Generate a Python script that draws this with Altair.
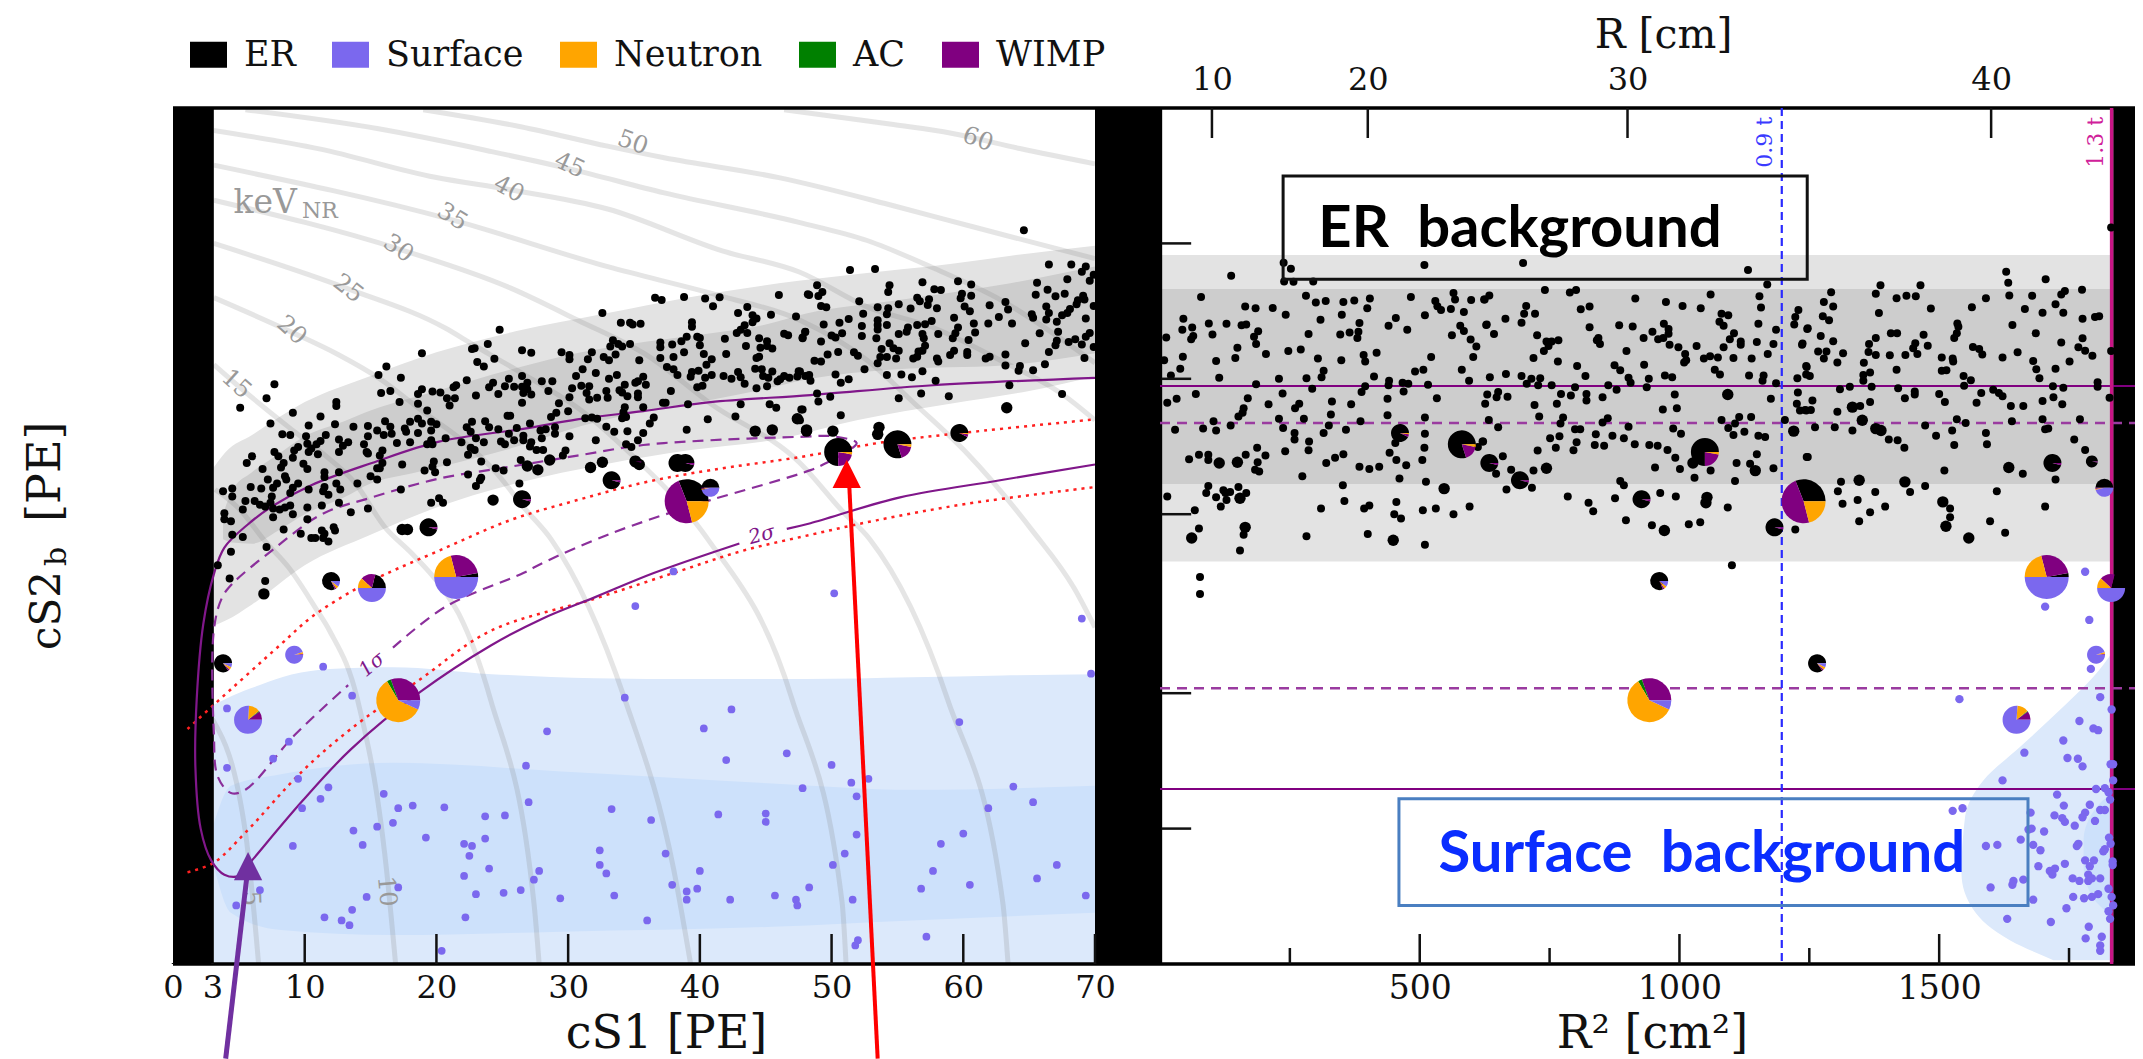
import math
import altair as alt
import pandas as pd

alt.data_transformers.disable_max_rows()

cats = ["ER", "Surface", "Neutron", "AC", "WIMP"]
cat_colors = ["#000000", "#7b68ee", "#ffa500", "#008000", "#800080"]

er_left_a = [(24.8,2570),(23.9,2390),(22.7,2330),(22.9,2340),(18.9,2280),(24.4,2215),(23.1,2180),(23.6,2130),(16.2,2130),(15.6,2040),(17.3,2010),(7.7,1945),(15.8,1860),(16.5,1880),(7.1,1810),(12.4,1775),(12.4,1740),(5.1,1725),(9.1,1680),(11.2,1650),(7.4,1590),(10.3,1575),(12.3,1585),(13.7,1565),(14.8,1570),(8.3,1505),(8.9,1500),(10.1,1490),(11.6,1500),(15.5,1535),(16.5,1565),(16.6,1510),(16.0,1500),(14.8,1490),(17.6,1550),(17.7,1525),(18.0,1605),(18.6,1630),(18.9,1590),(18.6,1515),(19.6,1605),(20.0,1585),(19.6,1535),(16.1,1610),(22.3,1985),(21.5,1935),(21.3,1915),(24.3,1960),(24.0,1915),(25.5,2000),(18.6,1850),(18.9,1895),(19.7,1875),(20.3,1865),(20.8,1810),(21.4,1810),(21.0,1745),(23.0,1835),(24.7,1850),(25.2,1925),(17.2,1775),(18.6,1760),(19.3,1700),(25.4,1655),(22.7,1605),(23.7,1610),(24.0,1560),(24.7,1545),(22.3,1560),(22.6,1525),(20.7,1475),(17.0,1440),(18.0,1445),(19.3,1430),(19.6,1460),(19.7,1430)]
er_left_b = [(14.5,1430),(12.6,1465),(13.3,1445),(12.9,1420),(12.6,1375),(11.2,1455),(10.9,1430),(10.2,1435),(9.5,1410),(9.2,1385),(10.5,1400),(11.0,1360),(10.3,1375),(7.7,1375),(8.0,1345),(9.9,1295),(10.2,1260),(9.1,1335),(6.0,1345),(5.6,1300),(8.4,1300),(8.2,1270),(6.8,1260),(11.5,1240),(11.5,1210),(12.6,1240),(14.7,1375),(14.8,1365),(17.4,1290),(15.9,1385),(15.7,1350),(15.9,1300),(15.5,1265),(15.7,1265),(19.1,1250),(19.8,1310),(19.9,1240),(20.8,1305),(19.7,1275),(21.9,1445),(22.6,1405),(22.4,1355),(22.9,1390),(23.0,1475),(23.6,1445),(23.4,1310),(24.9,1450),(25.2,1430),(25.5,1510),(24.5,1265),(25.1,1250),(22.4,1225),(23.4,1205),(23.3,1190),(23.0,1155),(15.0,1215),(15.5,1195),(14.0,1170),(17.3,1135),(7.2,1195),(8.5,1215),(8.6,1195),(7.9,1170),(7.6,1145),(9.5,1170),(9.1,1145),(8.9,1115),(5.9,1150),(6.7,1140),(10.3,1135),(11.5,1150),(11.4,1125),(11.8,1105),(12.4,1170),(12.7,1135),(12.6,1060)]
er_left_c = [(3.8,1125),(4.5,1140),(4.5,1095),(5.5,1070),(6.2,1070),(6.6,1050),(7.0,1040),(7.5,1095),(7.4,1060),(7.6,1030),(8.1,1025),(8.5,1035),(8.9,1045),(5.3,1025),(10.2,1035),(11.3,1045),(9.1,1000),(10.2,975),(7.6,985),(3.9,1005),(3.9,975),(4.4,965),(4.5,900),(5.3,890),(8.4,925),(9.7,905),(10.5,885),(10.8,885),(11.3,920),(11.5,905),(12.2,935),(12.3,920),(11.8,870),(11.4,885),(13.5,1010),(14.8,1030),(19.6,1060),(20.2,1085),(20.5,1060),(7.1,845),(4.4,825),(3.4,770),(4.3,720),(7.0,710)]
er_left_d = [(32.6,2800),(34.0,2665),(34.7,2665),(34.9,2640),(35.5,2650),(36.6,3030),(37.1,2995),(38.8,3040),(40.4,3015),(41.0,2900),(41.5,3035),(46.0,3070),(48.2,3085),(43.6,2890),(42.9,2800),(45.4,2775),(47.3,2750),(44.0,2770),(44.3,2725),(44.0,2670),(43.4,2630),(43.1,2570),(42.8,2530),(43.6,2530),(39.4,2670),(39.4,2610),(39.8,2480),(40.0,2465),(39.0,2480),(38.6,2425),(37.9,2385),(37.0,2410),(37.0,2350),(40.0,2375),(41.9,2455),(33.4,2435),(33.2,2360),(33.8,2390),(34.1,2360),(34.7,2390),(26.5,2315),(27.2,2285),(29.5,2290),(30.1,2260),(30.1,2210),(31.8,2290),(31.5,2210),(32.7,2235),(33.1,2200),(33.6,2265),(35.4,2200),(37.0,2225),(38.0,2235),(38.8,2290),(40.3,2270),(40.9,2210),(40.5,2150),(42.0,2270),(43.5,2365),(44.5,2460),(45.1,2425),(45.1,2365),(45.5,2335),(44.6,2345),(44.5,2240),(44.3,2225),(46.4,2520),(46.7,2500),(47.8,2460),(48.0,2540)]
er_left_e = [(37.5,2125),(38.0,2100),(38.3,2040),(39.4,2070),(39.9,2085),(39.3,2020),(40.9,2040),(40.4,2010),(41.8,2030),(42.4,2000),(42.9,2070),(43.1,2015),(43.4,1950),(44.2,2105),(44.7,2100),(44.8,2030),(45.2,2010),(45.5,2075),(44.3,1905),(45.1,1925),(46.1,1995),(45.9,1975),(46.4,2030),(46.8,2010),(47.5,2080),(47.4,2025),(48.0,2030),(31.1,2100),(30.6,2030),(32.1,2060),(33.7,2040),(33.1,2000),(26.5,2030),(28.0,1975),(28.8,1975),(26.9,1960),(25.9,1920),(26.5,1920),(26.9,1895),(26.6,1860),(27.2,1845),(28.5,1880),(30.1,1820),(30.3,1905),(31.0,1930),(31.6,1925),(31.4,1860),(31.6,1800),(32.2,1815),(32.9,1880),(33.0,1815),(33.9,1885),(34.3,1940),(34.1,1865),(34.5,1830),(35.3,1975),(35.7,2020),(35.9,1940),(35.1,1960),(35.3,1855),(35.3,1820),(37.8,1880),(39.8,1915),(40.2,1930)]
er_left_f = [(26.5,1770),(29.3,1765),(37.2,1770),(37.4,1770),(39.1,1755),(43.1,1755),(45.3,1755),(45.8,1725),(35.7,1730),(34.3,1730),(34.2,1685),(34.4,1645),(34.1,1635),(29.1,1680),(30.0,1695),(28.7,1645),(31.3,1635),(31.8,1640),(32.2,1630),(25.6,1655),(26.1,1555),(27.1,1590),(27.9,1535),(28.3,1545),(29.0,1560),(29.0,1510),(30.1,1490),(32.9,1565),(33.5,1525),(34.5,1530),(35.7,1515),(36.2,1590),(36.5,1640),(39.0,1540),(40.6,1625),(42.7,1650),(47.8,1710),(26.6,1495),(25.9,1460),(26.6,1460),(27.2,1445),(27.1,1415),(27.6,1390),(28.1,1390),(28.0,1475),(32.1,1460),(34.4,1430),(34.8,1410),(35.3,1460),(29.8,1385),(29.6,1350),(26.4,1320),(26.3,1170)]
er_left_g = [(64.6,4280),(51.4,3490),(53.3,3510),(66.5,3590),(68.2,3590),(69.3,3555),(69.0,3460),(69.9,3405),(69.6,3305),(67.9,3330),(65.6,3270),(48.9,3230),(49.3,3120),(49.0,3055),(48.3,3070),(54.4,3230),(54.3,3120),(56.9,3280),(57.8,3165),(58.3,3150),(59.6,3295),(60.6,3240),(59.9,3090),(59.8,3020),(60.6,3060),(52.1,2975),(56.5,3030),(56.7,2975),(57.4,3005),(57.3,2920),(55.1,2930),(65.5,3075),(66.4,3155),(67.0,3050),(67.7,3090),(69.1,3060),(68.7,2990),(69.2,3000),(68.6,2930),(53.5,2885),(54.3,2870),(54.2,2785),(49.2,2905),(49.6,2885),(52.4,2790),(56.0,2865),(58.0,2870),(60.1,2895),(60.5,2825),(62.0,2915),(63.2,2965),(63.4,2850),(66.3,2895),(66.5,2800),(66.3,2710),(68.1,2860),(67.9,2800),(69.9,2905),(67.5,2770),(51.3,2715),(50.6,2665),(49.4,2640),(53.5,2700),(54.2,2635),(52.3,2620),(53.5,2635),(53.5,2575),(59.3,2735),(62.7,2745),(65.2,2785),(65.3,2735),(69.3,2725),(60.8,2655),(61.9,2655),(63.7,2655)]
er_left_h = [(57.6,2690),(57.1,2645),(56.5,2635),(55.8,2600),(55.7,2545),(55.1,2515),(67.1,2680),(67.2,2545),(65.8,2525),(58.1,2515),(56.9,2515),(57.0,2460),(59.6,2600),(59.4,2525),(59.2,2460),(60.9,2535),(60.4,2440),(48.0,2545),(47.8,2470),(50.8,2525),(50.0,2495),(50.3,2470),(52.3,2490),(53.4,2460),(49.2,2420),(54.4,2400),(57.1,2370),(54.7,2340),(53.8,2330),(55.1,2310),(56.9,2310),(56.6,2300),(59.3,2310),(59.0,2260),(60.3,2295),(60.3,2260),(64.7,2400),(67.1,2430),(67.0,2375),(68.0,2415),(68.5,2450),(69.0,2385),(69.3,2480),(69.6,2530),(69.9,2355),(66.5,2295),(69.2,2225),(49.7,2265),(50.5,2295),(51.7,2290),(52.0,2250),(53.7,2235),(54.2,2235),(54.9,2220),(56.2,2220),(56.5,2240),(48.7,2195),(49.2,2185),(53.5,2165),(58.0,2220),(58.1,2185),(61.7,2220),(62.0,2240),(63.2,2265),(63.2,2140),(64.3,2135),(64.2,2085),(65.3,2090),(66.2,2155),(52.5,2100),(54.2,2040),(55.3,2045),(56.1,2015),(56.9,2080),(57.9,1980),(47.6,2075),(48.3,2040),(48.4,1980),(50.3,2045),(50.7,1960),(51.3,1995),(63.5,1935),(67.5,1850),(48.9,1855),(49.0,1780),(49.9,1825),(55.1,1810),(56.8,1855),(58.9,1830),(50.7,1660),(47.7,1710),(47.6,1618)]
er_left_big = [(24.3,1075),(17.4,925),(17.8,925),(6.9,665),(47.4,1630),(48.1,1540),(44.2,1530),(45.5,1540),(28.6,1320),(27.7,1255),(31.7,1270),(32.6,1305),(26.9,1280),(63.3,1725),(48.1,1530),(50.1,1530),(53.6,1560),(53.5,1505),(35.4,1290)]

er_right_a = [(137,3390),(238,3625),(252,3515),(239,3290),(257,3285),(295,3290),(509,3580),(79,3040),(164,2895),(184,2870),(217,2875),(242,2775),(281,3060),(300,2955),(319,2980),(353,2965),(374,2985),(404,3015),(399,2870),(483,3040),(565,3105),(568,3000),(599,2995),(625,3000),(530,2980),(534,2900),(541,2845),(560,2860),(585,2815),(510,2770),(45,2720),(94,2655),(128,2650),(157,2630),(166,2640),(309,2705),(350,2775),(384,2660),(454,2730),(440,2625),(476,2570),(578,2625),(628,2635),(585,2555),(43,2570),(62,2600),(101,2510),(189,2550),(181,2480),(185,2390),(64,2490),(60,2450),(12,2470),(286,2515),(347,2510),(365,2535),(382,2545),(380,2465),(562,2500),(598,2445),(609,2360),(149,2345),(145,2225),(44,2240),(8,2200),(108,2190),(204,2270),(247,2305),(271,2325),(304,2220),(349,2200),(392,2260),(395,2185),(417,2285),(522,2235),(603,2235)]
er_right_b = [(39,2105),(21,2035),(114,2010),(229,2000),(282,2005),(315,2085),(311,2015),(412,2025),(581,2095),(595,1980),(491,2075),(507,2095),(185,1945),(441,1980),(440,1935),(467,1960),(478,1950),(516,1940),(395,1925),(388,1870),(293,1900),(469,1875),(69,1850),(236,1855),(169,1810),(32,1805),(14,1770),(533,1810),(438,1805),(209,1755),(331,1780),(368,1755),(268,1760),(260,1720),(161,1720),(151,1650),(159,1680),(329,1665),(438,1660),(510,1640),(229,1630),(277,1630),(103,1610),(386,1610),(136,1575),(325,1575),(83,1550),(108,1535),(237,1555),(29,1540),(358,1540),(259,1515),(315,1515),(510,1510),(259,1465),(287,1450),(286,1387),(187,1405),(241,1380),(453,1440),(509,1405),(621,1450),(612,1410),(353,1360),(337,1335),(165,1355),(203,1350),(75,1355),(93,1355),(93,1320),(56,1325),(442,1370),(455,1320),(474,1285),(505,1320),(320,1300),(188,1305),(384,1275),(403,1260),(422,1275),(183,1255),(191,1245),(274,1215),(461,1200),(512,1180)]
er_right_c = [(93,1155),(89,1115),(151,1150),(166,1115),(122,1130),(135,1120),(126,1115),(108,1090),(128,1075),(117,1040),(14,1095),(67,1020),(352,1160),(355,1070),(310,1030),(393,1030),(403,1045),(455,1065),(451,1000),(464,978),(506,1020),(531,1030),(565,1000),(596,1040),(75,930),(161,900),(154,830),(282,893),(400,904),(510,855),(77,725),(77,665),(1101,770)]
er_right_d = [(699,3620),(1132,3490),(1169,3240),(741,3150),(789,3110),(801,3150),(624,3000),(634,3065),(915,3015),(974,2965),(1006,2905),(1041,2870),(1060,3080),(1154,3050),(1157,2880),(705,2905),(701,2790),(722,2790),(665,2720),(696,2665),(629,2640),(643,2515),(810,2855),(827,2895),(827,2605),(884,2630),(910,2615),(726,2500),(744,2420),(754,2420),(767,2435),(748,2365),(739,2305),(719,2225),(766,2185),(803,2135),(844,2465),(841,2435),(847,2390),(898,2305),(931,2465),(948,2545),(970,2650),(979,2580),(979,2520),(969,2465),(959,2450),(981,2380),(998,2350),(1033,2365),(1081,2790),(1094,2770),(1077,2680),(1085,2625),(1105,2525),(1152,2650),(1186,2570),(1097,2450),(1118,2420),(1118,2380),(1149,2415),(1181,2390),(1085,2350),(1170,2270),(1104,2225),(1139,2220),(1047,2220),(1059,2245),(1074,2230),(1011,2270),(1013,2200),(1009,2175),(1229,2845),(1223,2745),(1221,2640),(1246,2580),(1236,2380)]
er_right_e = [(875,2145),(886,2090),(932,2150),(635,2015),(666,2050),(696,2030),(715,2000),(732,2005),(706,1950),(728,1935),(754,1935),(819,2030),(902,2010),(906,1960),(941,2000),(972,2035),(986,2015),(863,1935),(799,1915),(879,1890),(937,1915),(1068,2095),(1078,2045),(1134,2035),(1162,2035),(1160,1980),(1186,1955),(1227,2005),(1245,2125),(1244,2045),(772,1850),(791,1835),(821,1850),(821,1790),(852,1820),(630,1845),(651,1870),(648,1820),(669,1825),(626,1760),(721,1750),(764,1760),(991,1845),(1176,1805),(1228,1865),(1226,1760),(968,1710),(995,1720),(730,1650),(776,1640),(771,1590),(633,1620),(651,1560),(862,1635),(852,1600),(1081,1620),(1115,1645),(1138,1645),(1107,1590),(1203,1620),(1244,1700)]
er_right_f = [(799,1545),(809,1545),(902,1565),(988,1550),(1003,1510),(1094,1555),(1104,1500),(1125,1525),(1152,1495),(1165,1485),(839,1505),(871,1495),(893,1475),(769,1490),(751,1475),(622,1450),(802,1445),(796,1387),(762,1405),(837,1425),(855,1420),(914,1430),(942,1425),(958,1420),(977,1390),(727,1385),(660,1345),(992,1335),(1149,1360),(1136,1295),(1245,1340),(953,1270),(1001,1260),(676,1255),(719,1250),(1110,1300),(1181,1265),(1060,1250),(1029,1205),(1107,1185),(886,1185),(893,1160),(647,1230),(667,1135),(716,1145),(785,1095),(825,1060),(834,1015),(876,1085),(963,1115),(993,1095),(1093,1035),(897,970),(947,945),(1018,950),(1040,960),(1223,925)]
er_right_g = [(1831,4340),(1629,3460),(1633,3270),(1705,3330),(1635,3065),(1387,3230),(1378,3090),(1464,3230),(1292,3115),(1418,3020),(1437,3060),(1455,3050),(1679,3060),(1735,3080),(1742,3135),(1775,3155),(1590,3020),(1563,2885),(1278,2965),(1296,2895),(1484,2865),(1384,2800),(1665,2860),(1699,2805),(1724,2930),(1739,2805),(1776,2720),(1800,2745),(1808,2755),(1276,2755),(1288,2700),(1247,2590),(1535,2655),(1537,2610),(1641,2635),(1686,2525),(1272,2490),(1534,2525),(1529,2465),(1378,2465),(1407,2525),(1419,2525),(1470,2505),(1776,2460),(1237,2395),(1296,2425),(1365,2390),(1735,2410),(1454,2400),(1450,2340),(1478,2370),(1458,2270),(1364,2295),(1378,2260),(1405,2255),(1435,2260),(1267,2300),(1283,2300),(1278,2220),(1315,2280),(1304,2175),(1355,2170),(1565,2355),(1577,2330),(1583,2265),(1622,2230),(1651,2290),(1768,2350),(1781,2310),(1795,2250),(1831,2305)]
er_right_h = [(1505,2230),(1526,2220),(1527,2185),(1681,2190),(1751,2185),(1687,2100),(1505,2085),(1514,2090),(1724,2105),(1418,2095),(1244,2135),(1367,2065),(1354,2040),(1354,1980),(1251,2030),(1547,2030),(1561,1985),(1693,2005),(1548,1930),(1805,1965),(1805,1920),(1309,1895),(1328,1920),(1370,1920),(1421,1905),(1453,1875),(1453,1845),(1719,1925),(1739,1910),(1604,1890),(1615,1860),(1622,1830),(1581,1860),(1434,1810),(1500,1850),(1511,1775),(1720,1820),(1828,1815),(1256,1790),(1367,1775),(1699,1785),(1572,1770),(1737,1755),(1638,1740),(1662,1740),(1232,1700),(1242,1705),(1253,1705),(1304,1690),(1348,1740),(1534,1625),(1551,1595),(1640,1610),(1699,1625),(1771,1625),(1261,1560),(1299,1560),(1333,1535),(1473,1575),(1525,1535),(1704,1545),(1710,1550)]
er_right_i = [(1494,1495),(1590,1515),(1592,1430),(1529,1425),(1403,1465),(1420,1460),(1433,1405),(1760,1465),(1781,1390),(1247,1340),(1510,1250),(1661,1230),(1724,1195),(1311,1180),(1305,1125),(1473,1155),(1611,1125),(1444,1120),(1377,1120),(1314,1055),(1343,1075),(1396,1040),(1367,1010),(1346,965),(1704,1040),(1598,965),(1627,910),(1521,1030),(1521,985)]
er_right_big = [(114,1300),(149,1305),(154,1085),(547,1140),(61,885),(164,935),(449,875),(744,1265),(1026,1300),(1146,1250),(1053,1090),(1051,1060),(971,920),(963,715),(1220,1530),(1333,1730),(1352,1618),(1378,1550),(1388,1535),(1507,1065),(1346,1190),(1634,1270),(1513,940),(1557,885),(1434,1180),(1093,1845)]

surf_left_a = [(38,746),(50.2,667),(35.1,625),(69,586),(69.7,442),(11.4,458),(4.1,370),(13.6,395),(34.3,391),(42.4,368),(40.3,334),(28.4,329),(59.7,345),(8.8,312),(7.6,286),(4.1,273),(46.6,294),(42,284),(26.8,276),(50,277),(9.5,258),(11.8,247),(11.2,233),(9.8,222),(16,239),(17.1,222),(18.2,225),(20.6,223),(27,229),(52.8,258),(51.5,253),(51.9,236),(47.8,246),(63.8,248),(65.3,229),(61.9,222),(33.3,221),(36.3,209),(41.4,215),(45,216),(45,207),(23.7,213),(25.2,214),(16.7,206),(15.5,202),(13.7,198),(9.1,183),(14.4,184),(19.2,191),(23.7,190),(22.1,185),(22.7,183),(22.5,174)]
surf_left_b = [(51.9,194),(51,176),(50.1,166),(60,195),(58.3,185),(37.4,176),(32.4,179),(32.4,166),(32.9,159),(27.8,161),(27.4,154),(22.1,157),(24,163),(40,161),(57.7,161),(67.1,166),(65.6,155),(60.5,150),(56.8,147),(48.3,148),(39.8,147),(37.9,150),(39,145),(39,139),(42.3,139),(45.7,142),(47.3,139),(47.4,135),(33.5,142),(29.4,140),(26.4,146),(25.1,144),(23,143),(17.1,148),(14.7,141),(6.6,146),(4.8,135),(13.6,132),(11.5,127),(12.8,125),(13.4,122),(22.2,127),(36,125),(51.6,139),(69.3,142),(57.2,115),(52,113),(51.8,110),(20.4,107)]
surf_right_a = [(1781,745),(1704,623),(1789,582),(1792,453),(1539,388),(1810,392),(1832,368),(1770,347),(1797,334),(1806,331),(1739,314),(1664,295),(1747,287),(1767,286),(1776,275),(1830,278),(1835,278),(1622,256),(1835,256),(1802,245),(1819,246),(1826,241),(1727,238),(1829,232),(1740,225),(1790,226),(1526,219),(1545,222),(1810,220),(1819,220),(1676,217),(1781,217),(1722,214),(1776,212),(1737,211),(1742,207),(1761,203),(1800,208)]
surf_right_b = [(1678,200),(1672,199),(1702,197),(1657,189),(1827,191),(1768,185),(1765,183),(1681,184),(1590,183),(1612,184),(1695,179),(1830,185),(1819,180),(1816,178),(1781,170),(1798,170),(1790,165),(1834,169),(1834,166),(1691,165),(1742,167),(1713,161),(1723,163),(1718,158),(1787,158),(1757,155),(1770,153),(1787,153),(1810,155),(1794,155),(1643,153),(1641,150),(1662,154),(1599,148),(1681,139),(1758,141),(1779,140),(1794,141),(1806,143),(1826,147),(1832,141),(1835,135),(1745,133),(1826,131),(1631,126),(1715,124),(1829,126),(1788,121),(1813,115),(1782,114),(1810,110),(1810,107)]

# cS1, R2, cS2b, then the share of ER, WIMP, AC, Neutron, Surface
pies = [
    (39.0,1239,1069,.31,.48,0,.21,0),(17.1,942,386,0,.305,.03,.595,.07),(21.5,1707,725,.03,.26,0,.21,.50),
    (15.1,1831,685,.21,.17,0,.12,.50),(50.5,1049,1375,.75,.22,0,.03,0),(55.0,581,1430,.80,.17,0,.03,0),
    (59.7,462,1515,.93,.05,0,.02,0),(12.0,961,710,.82,.03,0,.05,.10),(3.8,1265,466,.85,.03,0,.05,.07),
    (5.7,1649,349,0,.10,.01,.13,.76),(9.2,1802,487,0,.02,0,.03,.95),(40.8,1818,1145,.50,.02,0,.02,.46),
    (19.4,1183,935,.96,.04,0,0,0),(33.3,693,1190,.96,.04,0,0,0),(26.5,927,1080,.96,.04,0,0,0),
    (38.3,634,1300,.96,.04,0,0,0),(38.9,1718,1300,.96,.04,0,0,0),(35.1,1794,1310,.97,.03,0,0,0),
]
pie_radius = [22,22,22,14,14,14,9,9,9,14,9,9,9,9,9,9,9,6]

er_outer_x = [3.1,4,6,10,15,20,26,33,39,46,52,59,65,70]
er_outer_top = [1271,1375,1500,1775,2030,2290,2550,2800,3030,3260,3420,3600,3800,3950]
er_outer_bot = [565,580,630,770,900,1035,1170,1295,1385,1470,1620,1760,1880,2025]
er_inner_x = [3.8,4.5,6,8,10,13,15,18,20,26,31,36,41,45,48,55,63,70]
er_inner_top = [1000,1130,1240,1360,1490,1610,1700,1810,1880,2110,2290,2420,2530,2640,2790,2990,3240,3555]
er_inner_bot = [880,865,860,920,1000,1090,1170,1230,1270,1410,1570,1700,1800,1900,1990,2100,2140,2280]
surf_outer_x = [3.1,4.5,6.6,9,11.9,16.7,24.2,32,40.1,48,56.1,63,70]
surf_outer_top = [377,395,417,440,453,457,441,432,430,430,434,438,441]
surf_inner_x = [3.1,4.4,8.2,16.7,29.5,45.5,56.1,70]
surf_inner_top = [205,249,264,280,268,252,244,249]
surf_inner_bot = [165,130,119,116,118,121,125,130]
blob_y = [102,113,132,159,213,256,304,379,435,490]
blob_x = [1720,1636,1566,1543,1550,1585,1656,1745,1797,1832]
blob_in_y = [128,140,165,188,223,241]
blob_in_x = [1832,1797,1778,1778,1803,1832]

iso_curves = {
    5: [(3,350),(5.5,196),(6.5,100)],
    10: [(3.2,1135),(5,1030),(7,870),(8.8,760),(10.8,620),(11.9,550),(14,388),(16.2,163),(16.9,100)],
    15: [(3.1,2150),(4.8,1945),(8.8,1560),(11.3,1370),(13.8,1175),(16.1,935),(18.1,820),(20.2,700),(21.7,600),(24.1,388),(27.4,137),(27.8,100)],
    20: [(3.1,3030),(9,2540),(12.6,2260),(15.6,2010),(19.1,1680),(22.2,1440),(24.5,1240),(26.7,1030),(28.7,880),(34.3,388),(38,163),(39.3,100)],
    25: [(3.1,4000),(13.3,3170),(20.7,2590),(22.7,2390),(26.7,2040),(31,1700),(35,1340),(38.8,1030),(40.6,880),(47,388),(50.8,137),(51.1,100)],
    30: [(3.1,4990),(17.1,3890),(25.6,3185),(30.7,2702),(36.2,2235),(40.8,1763),(47.6,1300),(50.9,1010),(52.9,880),(58.8,388),(63,137),(63.4,100)],
    35: [(3.1,5970),(21.2,4510),(33,3550),(41.7,3050),(47.6,2700),(52.7,2200),(56.5,1740),(60.3,1364),(65.2,923),(68.4,686),(70,560)],
    40: [(3.1,7130),(11.1,6490),(19.9,5610),(25.5,5270),(33,4770),(41.7,3850),(47.6,3450),(52.7,2890),(57.7,2600),(62.8,2200),(67.5,1850),(70,1618)],
    45: [(5.5,7930),(15.5,7200),(24.2,6400),(30.1,5860),(37.3,5180),(47.6,4450),(52.7,4060),(57.7,3530),(62.8,3000),(67.9,2400),(70,2170)],
    50: [(19,7930),(26.4,7270),(33,6580),(37.3,6200),(46,5600),(54.7,4850),(60.8,4350),(70,3700)],
    60: [(46.4,7930),(54.7,7350),(59.1,7030),(64.3,6500),(70,6010)],
}
iso_labels = [("60",61.1,6800,20),("50",34.9,6690,20),("45",30.1,5960,25),("40",25.5,5270,28),("35",21.2,4580,32),
              ("30",17.1,3890,35),("25",13.3,3170,38),("20",9,2560,42),("15",4.8,1945,42),("10",16.2,145,85),("5",5.9,140,88)]

contour_solid_a = [(43,861),(36.5,740),(32.1,655),(28,585),(24.1,510),(18.8,403),(13.5,300),(9.8,230),(6,170),(5,157),(3.9,158),(2.9,170),(2.1,200),(1.7,274),(1.8,388),(2.3,570),(3.1,735),(3.9,843),(5.7,950),(7.5,1040),(10.5,1160),(15.1,1300),(20.2,1450),(26.7,1550),(30.7,1625),(35.7,1695),(40.8,1775),(48.4,1840),(57.7,1935),(70,2010)]
contour_solid_b = [(46.6,928),(48.4,955),(55.2,1090),(62.8,1190),(70,1290)]
contour_dash = [(16.7,505),(20.7,623),(26.6,740),(28.1,780),(33.2,905),(38.3,1020),(40.8,1075),(48.4,1253),(49.6,1300),(51.4,1390),(51.9,1440),(50.1,1490),(47.6,1486),(40.8,1460),(35.7,1425),(30.7,1350),(25.6,1275),(20.2,1200),(15.1,1090),(11.3,1000),(7.5,830),(4.5,700),(3.7,650),(3.1,552),(3.1,326),(3.4,261),(4.4,240),(5.5,244),(9.2,322),(13.3,417)]
red_upper = [(1.1,333),(3.1,377),(8.2,514),(10.5,590),(13.8,680),(16.1,735),(20.2,830),(25.6,970),(30.7,1075),(35.7,1175),(40.8,1253),(47.6,1340),(53.9,1445),(60.3,1520),(70,1625)]
red_lower = [(1.1,160),(3.1,168),(5.5,196),(9.8,268),(13.5,333),(18.8,430),(24.1,550),(32.1,650),(38.3,745),(43.3,830),(48.4,900),(53.4,969),(60.3,1055),(70,1149)]

cs1_ticks = [10,20,30,40,50,60,70]
cs1_labels = [0,3,10,20,30,40,50,60,70]
r2_major = [500,1000,1500]
r2_minor = [250,750,1250,1750]
r_ticks = [10,20,30,40]
cs2_ticks = [200,400,1000,2000,4000,8000]
cs2_inner_ticks = [200,400,1000,2000,4000]

SERIF = "DejaVu Serif"
SL = alt.Scale(domain=[0,70], range=[0,922], nice=False, zero=False)
SR = alt.Scale(domain=[0,1877], range=[987,1962], nice=False, zero=False)
ST = alt.Scale(type="pow", exponent=2, domain=[0,43.324], range=[987,1962], nice=False, zero=False)
SY = alt.Scale(type="log", domain=[100,8000], nice=False)
Y = alt.Y("y:Q", scale=SY, axis=None)
Y2 = alt.Y2("y2:Q")
XL = alt.X("x:Q", scale=SL, axis=None)
XR = alt.X("x:Q", scale=SR, axis=None)
X2 = alt.X2("x2:Q")

def pts(rows):
    return pd.DataFrame(rows, columns=["x","y"])

def line(rows, color, width, xenc=XL, dash=None, interp="catmull-rom", opacity=1):
    d = pts(rows); d["i"] = range(len(d))
    kw = dict(color=color, strokeWidth=width, interpolate=interp, opacity=opacity)
    if dash: kw["strokeDash"] = dash
    return alt.Chart(d).mark_line(**kw).encode(x=xenc, y=Y, order=alt.Order("i:Q"))

def band(xs, tops, bots, color):
    d = pd.DataFrame({"x":xs,"y":tops,"y2":bots})
    return alt.Chart(d).mark_area(color=color, interpolate="monotone", opacity=1).encode(x=XL, y=Y, y2=Y2)

def box(x0, x1, y0, y1, color, xenc, **kw):
    d = pd.DataFrame({"x":[x0],"x2":[x1],"y":[y0],"y2":[y1]})
    return alt.Chart(d).mark_rect(color=color, **kw).encode(x=xenc, x2=X2, y=Y, y2=Y2)

def hrule(yv, color, width, dash=None, opacity=1):
    d = pd.DataFrame({"x":[0],"x2":[1877],"y":[yv]})
    kw = dict(color=color, strokeWidth=width, opacity=opacity)
    if dash: kw["strokeDash"] = dash
    return alt.Chart(d).mark_rule(**kw).encode(x=XR, x2=X2, y=Y)

def dots(rows, color, size, xenc):
    return alt.Chart(pts(rows)).mark_circle(color=color, size=size, opacity=1).encode(x=xenc, y=Y)

def label(txt, x, y, xenc=XL, **kw):
    d = pd.DataFrame({"x":[x],"y":[y],"t":[txt]})
    return alt.Chart(d).mark_text(**kw).encode(x=xenc, y=Y, text="t:N")

def ytext(txt, px, py, **kw):
    d = pd.DataFrame({"t":[txt]})
    return alt.Chart(d).mark_text(angle=270, align="left", baseline="alphabetic", font=SERIF, color="#111111", **kw).encode(
        x=alt.value(px), y=alt.value(py), text="t:N")

def vticks(vals, scale, length, top=False, axis=None):
    d = pd.DataFrame({"x":vals})
    xe = alt.X("x:Q", scale=scale, axis=axis)
    y0, y1 = (0, length) if top else (856, 856-length)
    return alt.Chart(d).mark_rule(color="#111111", strokeWidth=2.5).encode(x=xe, y=alt.value(y0), y2=alt.value(y1))

def arrow(x0, y0, x1, y1, hx, hy, color, width):
    d = pd.DataFrame({"x":[x0],"x2":[x1],"y":[y0],"y2":[y1]})
    shaft = alt.Chart(d).mark_rule(color=color, strokeWidth=width).encode(x=XL, x2=X2, y=Y, y2=Y2)
    head = alt.Chart(pd.DataFrame({"x":[hx],"y":[hy]})).mark_point(
        shape="M0,-1L-1,1L1,1Z", size=800, filled=True, color=color, opacity=1).encode(x=XL, y=Y)
    return [shaft, head]

def pie_rows(panel):
    rows = []
    order = ["ER","WIMP","AC","Neutron","Surface"]
    for p, r in zip(pies, pie_radius):
        cum = 0.0
        for cat, f in zip(order, p[3:]):
            if f > 0:
                a0 = math.pi/2 - 2*math.pi*(cum+f)
                a1 = math.pi/2 - 2*math.pi*cum
                rows.append({"x":p[0] if panel=="L" else p[1],"y":p[2],"r":r,"cat":cat,"t0":a0,"t1":a1})
                cum += f
    return pd.DataFrame(rows)

def pie_layer(panel, legend):
    xe = XL if panel == "L" else XR
    return alt.Chart(pie_rows(panel)).mark_arc(stroke=None).encode(
        x=xe, y=Y,
        theta=alt.Theta("t0:Q", scale=None),
        theta2=alt.Theta2("t1:Q"),
        radius=alt.Radius("r:Q", scale=None),
        color=alt.Color("cat:N", scale=alt.Scale(domain=cats, range=cat_colors), legend=legend),
    )

legend = alt.Legend(orient="none", legendX=17, legendY=-72, direction="horizontal", columns=5, title=None,
                    symbolType="M-1,-0.7H1V0.7H-1Z", symbolSize=1369, symbolStrokeWidth=0,
                    labelFont=SERIF, labelFontSize=35, labelColor="#111111", labelOffset=17,
                    columnPadding=36, symbolOpacity=1)

axis_left = alt.Axis(values=cs1_labels, title="cS1 [PE]", orient="bottom", domain=False, ticks=False, grid=False, tickSize=0,
                     labelFont=SERIF, labelFontSize=32, labelColor="#111111", labelPadding=8, labelOverlap=False,
                     labelFlush=False, labelBound=False, format="d",
                     titleFont=SERIF, titleFontSize=46, titleFontWeight="normal", titleColor="#111111", titleX=493, titleY=83, titleAlign="center", titleBaseline="alphabetic")
axis_r2 = alt.Axis(values=r2_major, title="R² [cm²]", orient="bottom", domain=False, ticks=False, grid=False, tickSize=0,
                   labelFont=SERIF, labelFontSize=33, labelColor="#111111", labelPadding=8, labelOverlap=False, format="d",
                   titleFont=SERIF, titleFontSize=46, titleFontWeight="normal", titleColor="#111111", titleX=1479, titleY=83, titleAlign="center", titleBaseline="alphabetic")
axis_r = alt.Axis(values=r_ticks, title="R [cm]", orient="top", domain=False, ticks=False, grid=False, tickSize=0,
                  labelFont=SERIF, labelFontSize=32, labelColor="#111111", labelPadding=12, labelOverlap=False, format="d",
                  titleFont=SERIF, titleFontSize=41, titleFontWeight="normal", titleColor="#111111", titleX=1490, titleY=-61, titleAlign="center", titleBaseline="alphabetic")
axis_y = alt.Axis(values=cs2_ticks, title=None, orient="left", domain=False, ticks=False, grid=False, tickSize=0,
                  labelFont=SERIF, labelFontSize=34, labelColor="#111111", labelPadding=8, labelOverlap=False, format="d", labelFlush=False, labelBound=False)

layers = []
# ER and surface bands
layers += [band(surf_outer_x, surf_outer_top, [100]*len(surf_outer_x), "#dce9fb"),
           band(surf_inner_x, surf_inner_top, surf_inner_bot, "#cde1fb"),
           band(er_outer_x, er_outer_top, er_outer_bot, "#e3e3e3"),
           band(er_inner_x, er_inner_top, er_inner_bot, "#cdcdcd")]
layers += [box(0,1832,3770,785,"#e3e3e3",XR), box(0,1832,3168,1167,"#cdcdcd",XR)]
blob = pd.DataFrame({"y":blob_y,"x":blob_x,"x2":[1832]*len(blob_y)})
layers.append(alt.Chart(blob).mark_area(orient="horizontal", color="#dce9fb", interpolate="monotone", opacity=1).encode(x=XR, x2=X2, y=Y))
blob2 = pd.DataFrame({"y":blob_in_y,"x":blob_in_x,"x2":[1832]*len(blob_in_y)})
layers.append(alt.Chart(blob2).mark_area(orient="horizontal", color="#cde1fb", interpolate="monotone", opacity=1).encode(x=XR, x2=X2, y=Y))

# iso-energy curves and their labels
for k, c in iso_curves.items():
    layers.append(line(c, "#7f7f7f", 5, interp="monotone", opacity=0.2))
for t, x, y, a in iso_labels:
    layers.append(label(t, x, y, font=SERIF, fontSize=24, color="#999999", angle=a, align="center", baseline="middle"))
layers.append(label("keV", 4.6, 4680, font=SERIF, fontSize=33, color="#999999", align="left", baseline="alphabetic"))
layers.append(label("NR", 9.8, 4560, font=SERIF, fontSize=22, color="#999999", align="left", baseline="alphabetic"))

# black side bands and frame
layers += [box(0,3.1,100,8000,"#000000",XL), box(70,75.1,100,8000,"#000000",XL), box(1835,1877,100,8000,"#000000",XR)]
layers.append(alt.Chart(pd.DataFrame({"x":[0,0],"x2":[149,149],"y":[8000,100]})).mark_rule(color="#000000", strokeWidth=3.5).encode(x=XL, x2=X2, y=Y))

# discrimination lines, contours
layers += [hrule(1928,"#800080",2), hrule(245,"#800080",2), hrule(1596,"#9a3ba0",2.5,[10,7]), hrule(410,"#9a3ba0",2.5,[10,7])]
layers += [line(red_upper,"#ff2020",2.5,dash=[3,5]), line(red_lower,"#ff2020",2.5,dash=[3,5])]
layers += [line(contour_solid_a,"#80178a",2.2), line(contour_solid_b,"#80178a",2.2), line(contour_dash,"#8b2f9b",2.2,dash=[11,7])]
layers.append(label("2σ",44.7,899,font=SERIF,fontSize=20,fontStyle="italic",color="#80178a",angle=345,align="center",baseline="middle"))
layers.append(label("1σ",15.1,463,font=SERIF,fontSize=20,fontStyle="italic",color="#80178a",angle=320,align="center",baseline="middle"))

# fiducial volume lines
v = alt.Chart(pd.DataFrame({"x":[1197]})).mark_rule(color="#2a2aff", strokeWidth=2.2, strokeDash=[8,5]).encode(x=XR)
layers.append(v)
layers.append(alt.Chart(pd.DataFrame({"x":[1832]})).mark_rule(color="#c71585", strokeWidth=3.5).encode(x=XR))
layers.append(label("0.9 t",1178,5890,xenc=XR,font=SERIF,fontSize=22,color="#3a3aff",angle=270,align="left",baseline="alphabetic"))
layers.append(label("1.3 t",1815,5890,xenc=XR,font=SERIF,fontSize=22,color="#d0209a",angle=270,align="left",baseline="alphabetic"))

# events
er_left = er_left_a+er_left_b+er_left_c+er_left_d+er_left_e+er_left_f+er_left_g+er_left_h
er_right = er_right_a+er_right_b+er_right_c+er_right_d+er_right_e+er_right_f+er_right_g+er_right_h+er_right_i
layers += [dots(surf_left_a+surf_left_b,"#7b68ee",60,XL), dots(surf_right_a+surf_right_b,"#7b68ee",70,XR)]
layers += [dots(er_left,"#000000",64,XL), dots(er_left_big,"#000000",130,XL),
           dots(er_right,"#000000",64,XR), dots(er_right_big,"#000000",130,XR)]
layers += [pie_layer("L", legend), pie_layer("R", None)]

# annotation boxes
layers.append(box(237,1246,5650,3330,"transparent",XR,stroke="#111111",strokeWidth=3,fillOpacity=0))
layers.append(box(460,1671,233,135,"transparent",XR,stroke="#4a7fc1",strokeWidth=3,fillOpacity=0))
layers.append(label("ER\u00a0\u00a0background",693,4280,xenc=XR,font="Lato",fontSize=58,fontWeight="bold",color="#000000",align="center",baseline="middle"))
layers.append(label("Surface\u00a0\u00a0background",1043,175,xenc=XR,font="Lato",fontSize=58,fontWeight="bold",color="#0a2dff",align="center",baseline="middle"))

# inner tick marks and the axes
layers.append(vticks(cs1_ticks, SL, 30))
layers.append(vticks(cs1_labels, SL, 1, axis=axis_left))
layers.append(vticks(r2_major, SR, 30, axis=axis_r2))
layers.append(vticks(r2_minor, SR, 16))
layers.append(vticks(r_ticks, ST, 30, top=True, axis=axis_r))
yt = pd.DataFrame({"x":[3]*5,"x2":[60]*5,"y":cs2_inner_ticks})
layers.append(alt.Chart(yt).mark_rule(color="#111111", strokeWidth=2.5).encode(x=XR, x2=X2, y=Y))
yc = pd.DataFrame({"x":[0]*6,"y":cs2_ticks})
layers.append(alt.Chart(yc).mark_point(opacity=0).encode(x=XL, y=alt.Y("y:Q", scale=SY, axis=axis_y)))

# y title pieces
layers += [ytext("cS2",-113,542,fontSize=42), ytext("b",-107,458,fontSize=30), ytext("[PE]",-113,414,fontSize=46)]

# arrows
layers += arrow(53.5,61.6,51.3,1229,51.15,1229,"#ff0000",4)
layers += arrow(4.0,61.6,5.7,165,5.7,165,"#7030a0",5)

chart = alt.layer(*layers).resolve_scale(x="independent").resolve_axis(x="independent").properties(
    width=1962, height=856,
    padding={"left":165,"top":100,"right":0,"bottom":95},
    autosize=alt.AutoSizeParams(type="none"),
).configure_view(stroke=None).configure(background="white")

chart.save("out.html", embed_options={"renderer": "svg", "actions": False})
